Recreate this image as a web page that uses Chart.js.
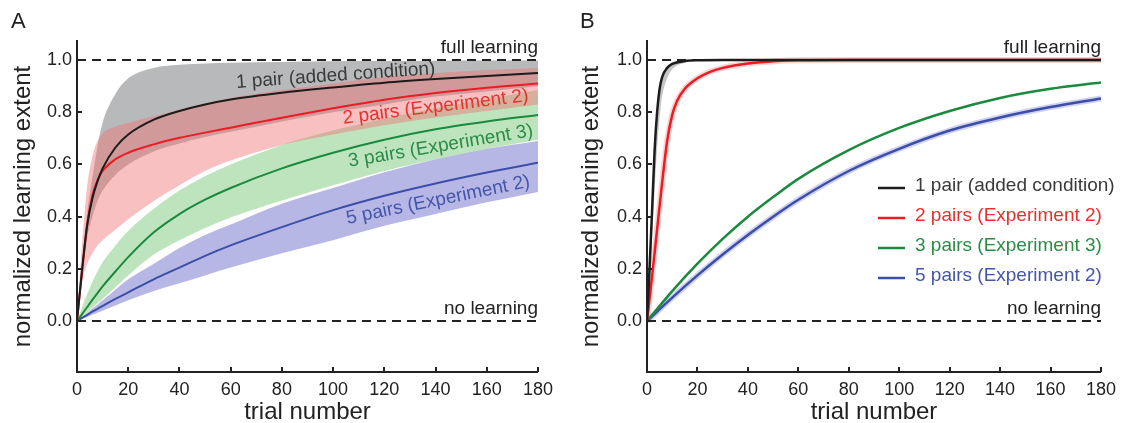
<!DOCTYPE html>
<html><head><meta charset="utf-8">
<script src="https://cdn.jsdelivr.net/npm/chart.js@4/dist/chart.umd.min.js"></script>
<style>
html,body{margin:0;padding:0;background:#fff;}
#wrap{position:relative;width:1123px;height:423px;overflow:hidden;}
#a{position:absolute;left:0;top:0;}
#b{position:absolute;left:560px;top:0;}
</style></head><body>
<div id="wrap"><canvas id="a" width="560" height="423"></canvas><canvas id="b" width="563" height="423"></canvas></div>
<script>
// ---------- data ----------
const seriesNames = ['1 pair (added condition)', '2 pairs (Experiment 2)', '3 pairs (Experiment 3)', '5 pairs (Experiment 2)'];
const xTicks = [0,20,40,60,80,100,120,140,160,180];
const yTicks = [0,0.2,0.4,0.6,0.8,1.0];
const refX = [0,180];
const fullLearning = [1,1];
const noLearning = [0,0];

// Panel A (fits with confidence bands)
const trialsA = [0,2,4,6,8,10,15,20,30,40,50,60,80,100,120,140,160,180];
const onePairA    = [0,0.2,0.37,0.47,0.535,0.585,0.665,0.715,0.772,0.805,0.83,0.849,0.875,0.895,0.913,0.927,0.939,0.95];
const onePairA_hi = [0,0.22,0.42,0.55,0.67,0.76,0.87,0.93,0.97,0.982,0.987,0.99,0.993,0.995,0.996,0.997,0.998,0.998];
const onePairA_lo = [0,0.17,0.32,0.4,0.46,0.5,0.56,0.6,0.65,0.68,0.705,0.725,0.765,0.8,0.83,0.86,0.88,0.9];
const twoPairsA    = [0,0.19,0.37,0.48,0.54,0.575,0.62,0.645,0.677,0.702,0.722,0.741,0.779,0.815,0.848,0.874,0.894,0.91];
const twoPairsA_hi = [0,0.3,0.52,0.63,0.69,0.72,0.745,0.76,0.785,0.81,0.835,0.855,0.885,0.91,0.935,0.95,0.962,0.97];
const twoPairsA_lo = [0,0.15,0.22,0.26,0.29,0.31,0.35,0.39,0.46,0.52,0.575,0.615,0.675,0.715,0.75,0.78,0.805,0.83];
const threePairsA    = [0,0.027,0.054,0.081,0.107,0.133,0.19,0.245,0.34,0.41,0.465,0.51,0.585,0.645,0.695,0.735,0.765,0.79];
const threePairsA_hi = [0,0.055,0.105,0.15,0.19,0.225,0.29,0.345,0.43,0.5,0.555,0.6,0.675,0.73,0.775,0.815,0.85,0.885];
const threePairsA_lo = [0,0.017,0.034,0.051,0.068,0.085,0.13,0.175,0.255,0.31,0.357,0.397,0.462,0.52,0.575,0.62,0.66,0.695];
const fivePairsA    = [0,0.012,0.024,0.036,0.047,0.058,0.085,0.11,0.16,0.205,0.25,0.29,0.36,0.425,0.48,0.527,0.569,0.607];
const fivePairsA_hi = [0,0.016,0.032,0.048,0.064,0.08,0.12,0.16,0.22,0.28,0.33,0.37,0.45,0.51,0.57,0.62,0.66,0.69];
const fivePairsA_lo = [0,0.008,0.016,0.024,0.032,0.04,0.06,0.08,0.115,0.145,0.175,0.205,0.26,0.31,0.365,0.41,0.455,0.495];

// Panel B
const trialsB1 = [0,1,2,3,4,5,6,8,10,15,20,30,60,100,180];
const onePairB    = [0,0.2,0.42,0.65,0.8,0.89,0.935,0.97,0.985,0.996,0.999,1,1,1,1];
const onePairB_lo = [0,0.14,0.32,0.5,0.66,0.78,0.86,0.93,0.965,0.99,0.997,1,1,1,1];
const trialsB2 = [0,2,4,6,8,10,12,15,20,25,30,40,50,60,80,100,140,180];
const twoPairsB = [0,0.17,0.35,0.53,0.69,0.79,0.845,0.89,0.93,0.955,0.97,0.987,0.995,0.999,1,1,1,1];
const trialsB3 = [0,10,20,30,40,50,60,80,100,120,140,160,180];
const threePairsB = [0,0.115,0.22,0.315,0.4,0.475,0.545,0.655,0.74,0.805,0.855,0.89,0.914];
const fivePairsB  = [0,0.09,0.175,0.255,0.33,0.4,0.465,0.575,0.66,0.73,0.78,0.82,0.853];

// ---------- styles ----------
const FONT = "'Liberation Sans', Arial, Helvetica, sans-serif";
Chart.defaults.font.family = FONT;
Chart.defaults.color = '#222';
const lineColors = ['#1c1c1c', '#ec1c24', '#1b8a3e', '#3b4fa8'];
const textColors = ['#3a3a3a', '#e8302c', '#2a8c46', '#4556ab'];
const bandColors = ['rgba(125,127,132,0.55)', 'rgba(240,115,115,0.45)', 'rgba(110,195,110,0.45)', 'rgba(95,95,200,0.45)'];

function pts(xs, ys){ return xs.map((x,i)=>({x:x, y:ys[i]})); }
function lineDs(xs, ys, color, width, extra){
  return Object.assign({data:pts(xs,ys), borderColor:color, borderWidth:width, pointRadius:0, fill:false,
    cubicInterpolationMode:'monotone', backgroundColor:'transparent'}, extra||{});
}
function bandDs(xs, hi, lo, color){
  return [
    {data:pts(xs,hi), borderColor:'transparent', borderWidth:0, pointRadius:0, fill:false, cubicInterpolationMode:'monotone'},
    {data:pts(xs,lo), borderColor:'transparent', borderWidth:0, pointRadius:0, fill:'-1', backgroundColor:color, cubicInterpolationMode:'monotone'}
  ];
}
function dashDs(ys){
  return {data:pts(refX, ys), borderColor:'#222', borderWidth:2, borderDash:[9,6], pointRadius:0, fill:false};
}

const inwardTicks = {
  id:'inwardTicks',
  afterDraw(chart){
    const ctx = chart.ctx, a = chart.chartArea, xs = chart.scales.x, ys = chart.scales.y;
    ctx.save(); ctx.strokeStyle = '#222'; ctx.lineWidth = 2;
    xTicks.forEach(v=>{ const p = Math.round(xs.getPixelForValue(v)); ctx.beginPath(); ctx.moveTo(p, a.bottom); ctx.lineTo(p, a.bottom-5); ctx.stroke(); });
    yTicks.forEach(v=>{ const p = Math.round(ys.getPixelForValue(v)); ctx.beginPath(); ctx.moveTo(a.left, p); ctx.lineTo(a.left+5, p); ctx.stroke(); });
    ctx.restore();
  }
};
const annot = {
  id:'annot',
  afterDraw(chart, args, opts){
    const ctx = chart.ctx, xs = chart.scales.x, ys = chart.scales.y;
    (opts.items||[]).forEach(it=>{
      let px, py;
      if (it.data){ px = xs.getPixelForValue(it.data[0]); py = ys.getPixelForValue(it.data[1]); }
      else { px = it.px[0]; py = it.px[1]; }
      px += it.dx||0; py += it.dy||0;
      ctx.save();
      ctx.translate(px, py);
      if (it.rot) ctx.rotate(it.rot*Math.PI/180);
      ctx.font = (it.size||19) + 'px ' + FONT;
      ctx.fillStyle = it.color || '#222';
      ctx.textAlign = it.align || 'center';
      ctx.textBaseline = it.baseline || 'middle';
      ctx.fillText(it.text, 0, 0);
      ctx.restore();
    });
    const lg = opts.legend;
    if (lg){
      lg.rows.forEach((y,i)=>{
        ctx.save();
        ctx.strokeStyle = lineColors[i]; ctx.lineWidth = 2.5;
        ctx.beginPath(); ctx.moveTo(lg.x0, y+2); ctx.lineTo(lg.x1, y+2); ctx.stroke();
        ctx.font = '19px ' + FONT; ctx.fillStyle = textColors[i];
        ctx.textAlign = 'left'; ctx.textBaseline = 'middle';
        ctx.fillText(seriesNames[i], lg.tx, y);
        ctx.restore();
      });
    }
  }
};

function makeOptions(axisW, rightPad, titlePadTop, items, legend){
  return {
    responsive:false, animation:false, devicePixelRatio:1,
    layout:{padding:{left:0, right:rightPad, top:41, bottom:0}},
    plugins:{legend:{display:false}, tooltip:{enabled:false}, filler:{drawTime:'beforeDatasetsDraw'},
      annot:{items:items, legend:legend}},
    scales:{
      x:{type:'linear', min:0, max:180,
        afterBuildTicks:s=>{ s.ticks = xTicks.map(v=>({value:v})); },
        afterFit:s=>{ s.height = 51; },
        grid:{display:false, drawTicks:false, tickLength:0},
        border:{display:true, color:'#222', width:2},
        ticks:{padding:7, font:{size:18}, color:'#222', maxRotation:0, autoSkip:false},
        title:{display:true, text:'trial number', font:{size:24, lineHeight:0.92}, color:'#222', padding:{top:0, bottom:0}}},
      y:{type:'linear', min:-0.195, max:1.073,
        afterBuildTicks:s=>{ s.ticks = yTicks.map(v=>({value:v})); },
        afterFit:s=>{ s.width = axisW; },
        grid:{display:false, drawTicks:false, tickLength:0},
        border:{display:true, color:'#222', width:2},
        ticks:{padding:5, font:{size:18}, color:'#222', callback:v=>Number(v).toFixed(1)},
        title:{display:true, text:'normalized learning extent', font:{size:24}, color:'#222', padding:{top:titlePadTop, bottom:0}}}
    }
  };
}

// ---------- Panel A ----------
const dsA = [].concat(
  bandDs(trialsA, twoPairsA_hi, twoPairsA_lo, bandColors[1]),
  bandDs(trialsA, onePairA_hi, onePairA_lo, bandColors[0]),
  bandDs(trialsA, threePairsA_hi, threePairsA_lo, bandColors[2]),
  bandDs(trialsA, fivePairsA_hi, fivePairsA_lo, bandColors[3]),
  [
    lineDs(trialsA, onePairA, lineColors[0], 2),
    lineDs(trialsA, twoPairsA, lineColors[1], 2),
    lineDs(trialsA, threePairsA, lineColors[2], 2),
    lineDs(trialsA, fivePairsA, lineColors[3], 2),
    dashDs(fullLearning), dashDs(noLearning)
  ]
);
const itemsA = [
  {text:'A', px:[11,22], size:22, align:'left'},
  {text:'full learning', data:[180,1], dy:-7, align:'right', baseline:'alphabetic'},
  {text:'no learning', data:[180,0], dy:-7, align:'right', baseline:'alphabetic'},
  {text:seriesNames[0], data:[101,0.94], rot:-4, color:textColors[0]},
  {text:seriesNames[1], data:[140,0.82], rot:-7, color:textColors[1]},
  {text:seriesNames[2], data:[142,0.67], rot:-9.5, color:textColors[2]},
  {text:seriesNames[3], data:[141,0.463], rot:-11.5, color:textColors[3]}
];
new Chart(document.getElementById('a'), {type:'line', data:{datasets:dsA},
  options:makeOptions(77, 20, 9, itemsA, null), plugins:[inwardTicks, annot]});

// ---------- Panel B ----------
const dsB = [].concat(
  bandDs(trialsB1, onePairB, onePairB_lo, 'rgba(140,140,140,0.5)'),
  [
    lineDs(trialsB1, onePairB, lineColors[0], 2.5),
    lineDs(trialsB2, twoPairsB, lineColors[1], 2.5),
    lineDs(trialsB3, threePairsB, lineColors[2], 2.5),
    lineDs(trialsB3, fivePairsB, lineColors[3], 2.5),
    lineDs(trialsB2, twoPairsB, 'rgba(240,110,110,0.3)', 6),
    lineDs(trialsB3, fivePairsB, 'rgba(100,100,210,0.3)', 6),
    dashDs(fullLearning), dashDs(noLearning)
  ]
);
const itemsB = [
  {text:'B', px:[20,22], size:22, align:'left'},
  {text:'full learning', data:[180,1], dy:-7, align:'right', baseline:'alphabetic'},
  {text:'no learning', data:[180,0], dy:-7, align:'right', baseline:'alphabetic'}
];
const legendB = {x0:318, x1:345, tx:355, rows:[186,216,246,276]};
new Chart(document.getElementById('b'), {type:'line', data:{datasets:dsB},
  options:makeOptions(87, 16, 17, itemsB, legendB), plugins:[inwardTicks, annot]});
</script>
</body></html>
